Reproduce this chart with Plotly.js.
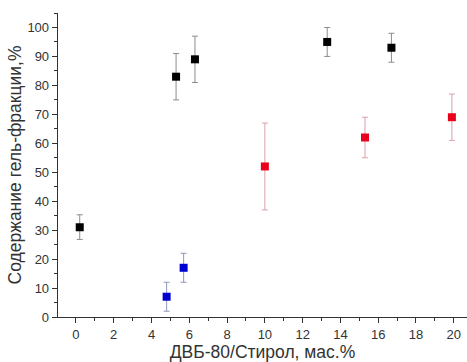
<!DOCTYPE html>
<html><head><meta charset="utf-8">
<script src="https://cdn.plot.ly/plotly-3.0.1.min.js"></script>
<style>html,body{margin:0;padding:0;background:#fff}#chart{width:467px;height:362px}</style>
</head><body><div id="chart"></div>
<script>
const blackX = [0.2, 5.3, 6.3, 13.3, 16.7];
const blackY = [31, 83, 89, 95, 93];
const blackErrPlus = [4.3, 8, 8, 5, 5];
const blackErrMinus = [4.2, 8, 8, 5, 5];

const redX = [10, 15.3, 19.9];
const redY = [52, 62, 69];
const redErrPlus = [15, 7, 8];
const redErrMinus = [15, 7, 8];

const blueX = [4.8, 5.7];
const blueY = [7, 17];
const blueErrPlus = [5, 5];
const blueErrMinus = [5, 5];

const xTitle = 'ДВБ-80/Стирол, мас.%';
const yTitle = 'Содержание гель-фракции,%';

function series(x, y, ep, em, color, ecolor) {
  return {
    x: x, y: y, type: 'scatter', mode: 'markers',
    marker: {symbol: 'square', size: 8, color: color},
    error_y: {type: 'data', symmetric: false, array: ep, arrayminus: em,
              color: ecolor, thickness: 1, width: 3},
    showlegend: false, hoverinfo: 'skip'
  };
}

const data = [
  series(blackX, blackY, blackErrPlus, blackErrMinus, '#000000', '#8c8c8c'),
  series(redX, redY, redErrPlus, redErrMinus, '#e8001c', '#dba0a8'),
  series(blueX, blueY, blueErrPlus, blueErrMinus, '#0000d0', '#9096b8')
];

const font = {family: 'Liberation Sans, Arial, sans-serif', color: '#333'};

const layout = {
  width: 467, height: 362,
  margin: {l: 58, r: 0, t: 13, b: 45},
  paper_bgcolor: '#fff', plot_bgcolor: '#fff',
  font: font,
  xaxis: {
    range: [-0.95, 20.7], tickmode: 'linear', tick0: 0, dtick: 2,
    ticks: 'outside', ticklen: 5, tickwidth: 1, tickcolor: '#333',
    showline: true, linecolor: '#333', linewidth: 1.3,
    showgrid: false, zeroline: false,
    tickfont: {size: 13, family: font.family, color: '#333'},
    minor: {dtick: 1, tick0: 0, ticks: 'outside', ticklen: 3, tickcolor: '#333', showgrid: false},
    title: {text: xTitle, font: {size: 17.5, family: font.family, color: '#333'}, standoff: 4}
  },
  yaxis: {
    range: [0, 105], tickmode: 'linear', tick0: 0, dtick: 10,
    ticks: 'outside', ticklen: 5, tickwidth: 1, tickcolor: '#333',
    showline: true, linecolor: '#333', linewidth: 1.3,
    showgrid: false, zeroline: false,
    tickfont: {size: 13, family: font.family, color: '#333'},
    minor: {dtick: 5, tick0: 0, ticks: 'outside', ticklen: 3, tickcolor: '#333', showgrid: false},
    title: {text: yTitle, font: {size: 17.5, family: font.family, color: '#333'}, standoff: 1}
  }
};

Plotly.newPlot('chart', data, layout, {displayModeBar: false, staticPlot: true});
</script></body></html>
